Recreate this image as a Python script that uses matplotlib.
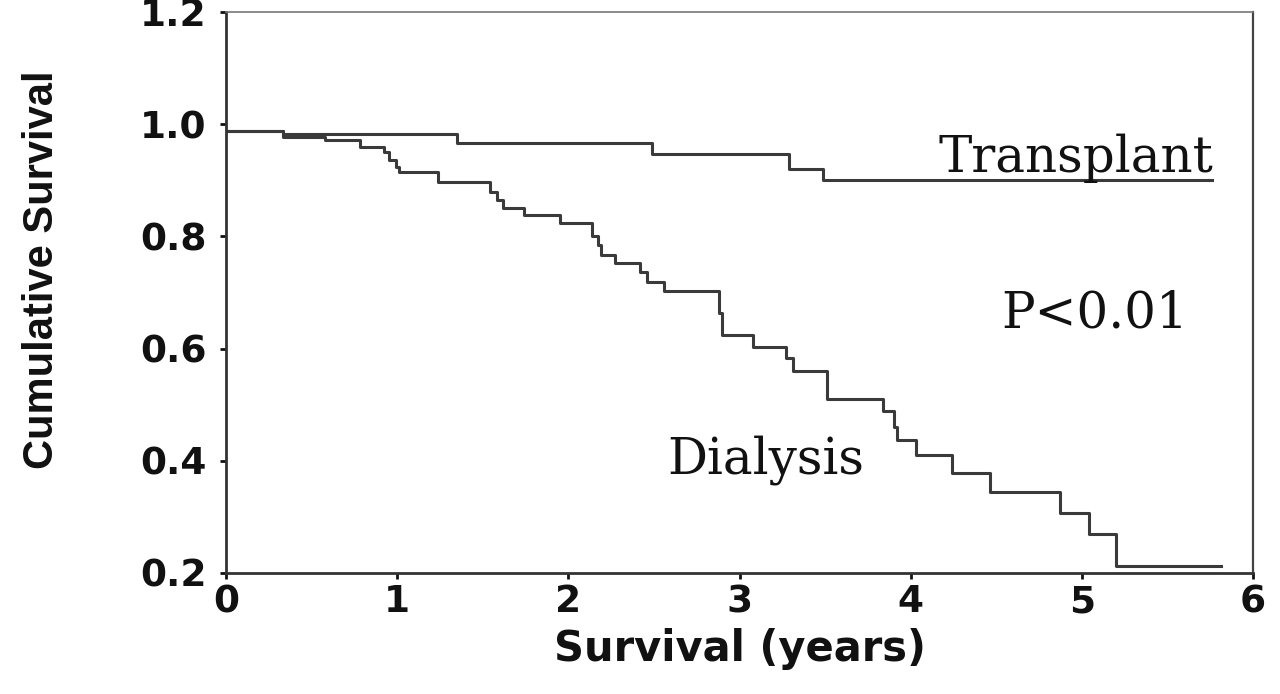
import numpy as np
import matplotlib
matplotlib.use('Agg')
import matplotlib.pyplot as plt

# Kaplan-Meier steps (time in years, survival after step)
dialysis_t = [0, 0.33, 0.58, 0.78, 0.92, 0.95, 0.99, 1.01, 1.24, 1.54, 1.58,
              1.62, 1.74, 1.95, 2.14, 2.17, 2.19, 2.27, 2.42, 2.46, 2.56, 2.88,
              2.90, 3.08, 3.27, 3.31, 3.51, 3.84, 3.90, 3.92, 4.03, 4.24, 4.46,
              4.87, 5.04, 5.20, 5.81]
dialysis_s = [0.987, 0.978, 0.971, 0.960, 0.951, 0.936, 0.924, 0.915, 0.897,
              0.880, 0.865, 0.851, 0.838, 0.824, 0.800, 0.785, 0.767, 0.752,
              0.737, 0.719, 0.703, 0.663, 0.624, 0.603, 0.583, 0.560, 0.511,
              0.488, 0.460, 0.437, 0.410, 0.378, 0.345, 0.307, 0.270, 0.212,
              0.212]

transplant_t = [0, 0.33, 1.35, 2.49, 3.29, 3.49, 5.76]
transplant_s = [0.987, 0.982, 0.966, 0.947, 0.921, 0.900, 0.900]

x_ticks = [0, 1, 2, 3, 4, 5, 6]
y_ticks = [0.2, 0.4, 0.6, 0.8, 1.0, 1.2]

line_col = '#3a3a3a'

fig = plt.figure(figsize=(12.8, 6.94), dpi=100)
ax = fig.add_axes([0.1766, 0.1744, 0.8024, 0.8083])

ax.step(dialysis_t, dialysis_s, where='post', color=line_col, lw=2.2)
ax.step(transplant_t, transplant_s, where='post', color=line_col, lw=2.2)

ax.set_xlim(0, 6)
ax.set_ylim(0.2, 1.2)
ax.set_xticks(x_ticks)
ax.set_yticks(y_ticks)
ax.set_xticklabels([str(v) for v in x_ticks])
ax.set_yticklabels(['%.1f' % v for v in y_ticks])

# tick labels: heavy sans
for lab in ax.get_xticklabels() + ax.get_yticklabels():
    lab.set_fontfamily('DejaVu Sans')
    lab.set_fontweight('bold')
    lab.set_fontsize(27)
ax.tick_params(axis='y', direction='out', length=4, width=2, pad=10, colors='#111111')
ax.tick_params(axis='x', direction='out', length=4, width=2, pad=4, colors='#111111')

for side in ['left', 'bottom']:
    ax.spines[side].set_linewidth(2)
    ax.spines[side].set_color('#333333')
ax.spines['right'].set_linewidth(1.6)
ax.spines['right'].set_color('#444444')
ax.spines['top'].set_linewidth(1.2)
ax.spines['top'].set_color('#777777')

ax.set_xlabel('Survival (years)', fontfamily='DejaVu Sans', fontweight='bold',
              fontsize=30, labelpad=6, color='#111111')
ax.set_ylabel('Cumulative Survival', fontfamily='Liberation Sans',
              fontweight='bold', fontsize=30, color='#111111')
ax.yaxis.set_label_coords(-0.16, 0.54)

# curve labels and p-value
serif = dict(fontfamily='DejaVu Serif', fontsize=36, color='#111111')
ax.text(5.77, 0.915, 'Transplant', ha='right', va='baseline', **serif)
ax.text(2.58, 0.378, 'Dialysis', ha='left', va='baseline', **serif)
ax.text(4.53, 0.637, 'P<0.01', ha='left', va='baseline', **serif)

plt.savefig('out.png', dpi=100)
